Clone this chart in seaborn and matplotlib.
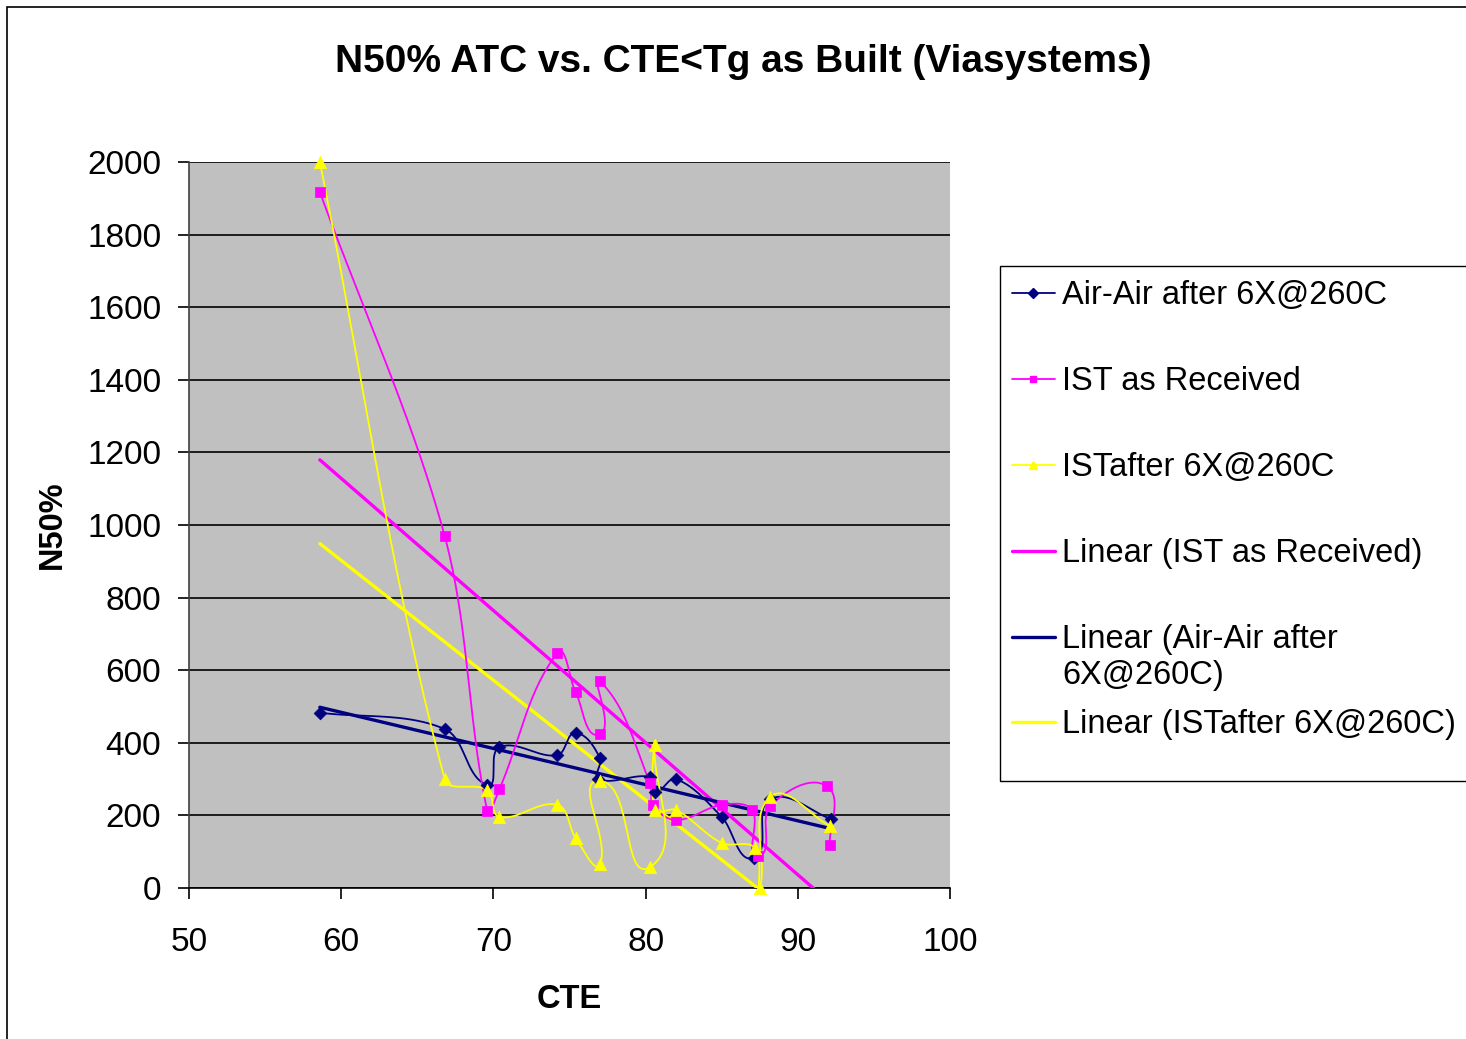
import numpy as np
import pandas as pd
import matplotlib
matplotlib.use("Agg")
import matplotlib.pyplot as plt
import seaborn as sns
from matplotlib.lines import Line2D
from matplotlib.patches import Rectangle

# values (series kept in their plotted order)
air_x = [58.6, 66.8, 69.6, 70.4, 74.2, 75.4, 77.0, 76.9, 80.3, 80.6, 82.0, 85.0, 87.1, 88.2, 92.2]
air_y = [483, 438, 284, 388, 366, 427, 358, 300, 306, 264, 300, 196, 83, 245, 190]

rec_x = [58.6, 66.8, 69.6, 70.4, 74.2, 75.4, 77.0, 77.0, 80.3, 80.5, 82.0, 85.0, 87.0, 87.4, 88.2, 91.9, 92.1]
rec_y = [1917, 970, 212, 273, 647, 540, 424, 570, 289, 229, 187, 229, 215, 88, 226, 281, 118]

ist_x = [58.6, 66.8, 69.6, 70.4, 74.2, 75.4, 77.0, 77.0, 80.3, 80.6, 80.6, 82.0, 85.0, 87.2, 87.5, 88.2, 92.1]
ist_y = [2000, 300, 270, 196, 229, 138, 66, 295, 58, 394, 215, 215, 124, 110, 0, 251, 171]

x_ticks = [50, 60, 70, 80, 90, 100]
y_ticks = [0, 200, 400, 600, 800, 1000, 1200, 1400, 1600, 1800, 2000]

NAVY = "#000080"
MAGENTA = "#FF00FF"
YELLOW = "#FFFF00"

W, H = 1466, 1039
# screen scale of the plot area (pixels per data unit), used for the smoothing
SX, SY = 761 / 50, 726 / 2000


def smooth_curve(xs, ys, n=40):
    # Excel-like smoothed line: cubic Bezier, tangent along the neighbours,
    # handle length tied to the current segment length (computed in screen space)
    p = np.column_stack([np.array(xs) * SX, np.array(ys) * SY]).astype(float)
    out = []
    t = np.linspace(0, 1, n)[:, None]
    for i in range(len(p) - 1):
        p0 = p[i - 1] if i > 0 else p[i]
        p1, p2 = p[i], p[i + 1]
        p3 = p[i + 2] if i + 2 < len(p) else p[i + 1]
        seg_len = np.linalg.norm(p2 - p1)
        d1 = p2 - p0
        d2 = p3 - p1
        d1 = d1 / (np.linalg.norm(d1) or 1)
        d2 = d2 / (np.linalg.norm(d2) or 1)
        c1 = p1 + d1 * seg_len / 3
        c2 = p2 - d2 * seg_len / 3
        seg = ((1 - t) ** 3) * p1 + 3 * ((1 - t) ** 2) * t * c1 + 3 * (1 - t) * t ** 2 * c2 + t ** 3 * p2
        out.append(seg if i == 0 else seg[1:])
    seg = np.vstack(out)
    return pd.DataFrame({"x": seg[:, 0] / SX, "y": seg[:, 1] / SY})


def fx(px):
    return px / W


def fy(py):
    return 1 - py / H


sns.set_style("white")
plt.rcParams["font.family"] = ["Liberation Sans", "DejaVu Sans"]
plt.rcParams.update({"text.color": "black", "axes.labelcolor": "black",
                     "xtick.color": "black", "ytick.color": "black"})

fig = plt.figure(figsize=(14.66, 10.39), dpi=100)
ax = fig.add_axes([0.1289, 0.1453, 0.5191, 0.6988])
ax.set_facecolor("#C0C0C0")

series = [
    (air_x, air_y, NAVY, "D", 42),
    (rec_x, rec_y, MAGENTA, "s", 50),
    (ist_x, ist_y, YELLOW, "^", 80),
]

# trend lines
for xs, ys, col, mk, sz in [series[1], series[2], series[0]]:
    sns.regplot(x=np.array(xs), y=np.array(ys), ax=ax, scatter=False, ci=None,
                truncate=True, line_kws={"color": col, "lw": 2.4, "zorder": 3})

for xs, ys, col, mk, sz in series:
    curve = smooth_curve(xs, ys)
    sns.lineplot(data=curve, x="x", y="y", ax=ax, sort=False, estimator=None,
                 color=col, lw=1.3, zorder=4)
    sns.scatterplot(x=xs, y=ys, ax=ax, marker=mk, s=sz, color=col,
                    edgecolor=col, linewidth=0.5, zorder=5, clip_on=False)

ax.set_xlim(50, 100)
ax.set_ylim(0, 2000)
ax.set_xticks(x_ticks)
ax.set_yticks(y_ticks)
ax.yaxis.grid(True, color="black", lw=1.2)
ax.xaxis.grid(False)
ax.set_axisbelow(True)

for side in ["top", "right"]:
    ax.spines[side].set_visible(False)
ax.spines["left"].set_color("#404040")
ax.spines["bottom"].set_color("black")
ax.spines["left"].set_linewidth(1.2)
ax.spines["bottom"].set_linewidth(1.2)

ax.tick_params(axis="both", direction="out", length=8, width=1.2, labelsize=24,
               bottom=True, left=True)
ax.tick_params(axis="x", pad=20)
ax.tick_params(axis="y", pad=12)

ax.set_xlabel("CTE", fontsize=23.5, fontweight="bold", labelpad=19)
ax.set_ylabel("N50%", fontsize=23.5, fontweight="bold", labelpad=14)

fig.text(0.507, 0.940, "N50% ATC vs. CTE<Tg as Built (Viasystems)", fontsize=28,
         fontweight="bold", ha="center", va="center")

# legend box, laid out like the spreadsheet legend
fig.add_artist(Rectangle((fx(1000), fy(781)), fx(480), fy(266) - fy(781), transform=fig.transFigure,
                         facecolor="white", edgecolor="black", lw=1.0))
legend_items = [
    (NAVY, 1.3, "D", 5, "Air-Air after 6X@260C", 293),
    (MAGENTA, 1.3, "s", 5, "IST as Received", 379),
    (YELLOW, 1.3, "^", 6, "ISTafter 6X@260C", 465),
    (MAGENTA, 2.4, None, 0, "Linear (IST as Received)", 551),
    (NAVY, 2.4, None, 0, "Linear (Air-Air after\n6X@260C)", 637),
    (YELLOW, 2.4, None, 0, "Linear (ISTafter 6X@260C)", 722),
]
for col, lw, mk, ms, label, yc in legend_items:
    fig.add_artist(Line2D([fx(1012), fx(1055)], [fy(yc), fy(yc)], transform=fig.transFigure,
                          color=col, lw=lw))
    if mk:
        fig.add_artist(Line2D([fx(1033)], [fy(yc)], transform=fig.transFigure, color=col,
                              marker=mk, ms=ms, lw=0))
    fig.text(fx(1062), fy(yc - 13), label, fontsize=23.5, ha="left", va="top", linespacing=1.2)

# outer chart border (right and bottom edges fall outside the picture)
fig.add_artist(Rectangle((fx(7), -0.1), 1.2, fy(7) + 0.1, transform=fig.transFigure,
                         fill=False, edgecolor="black", lw=1.2))

fig.savefig("out.png", dpi=100)
